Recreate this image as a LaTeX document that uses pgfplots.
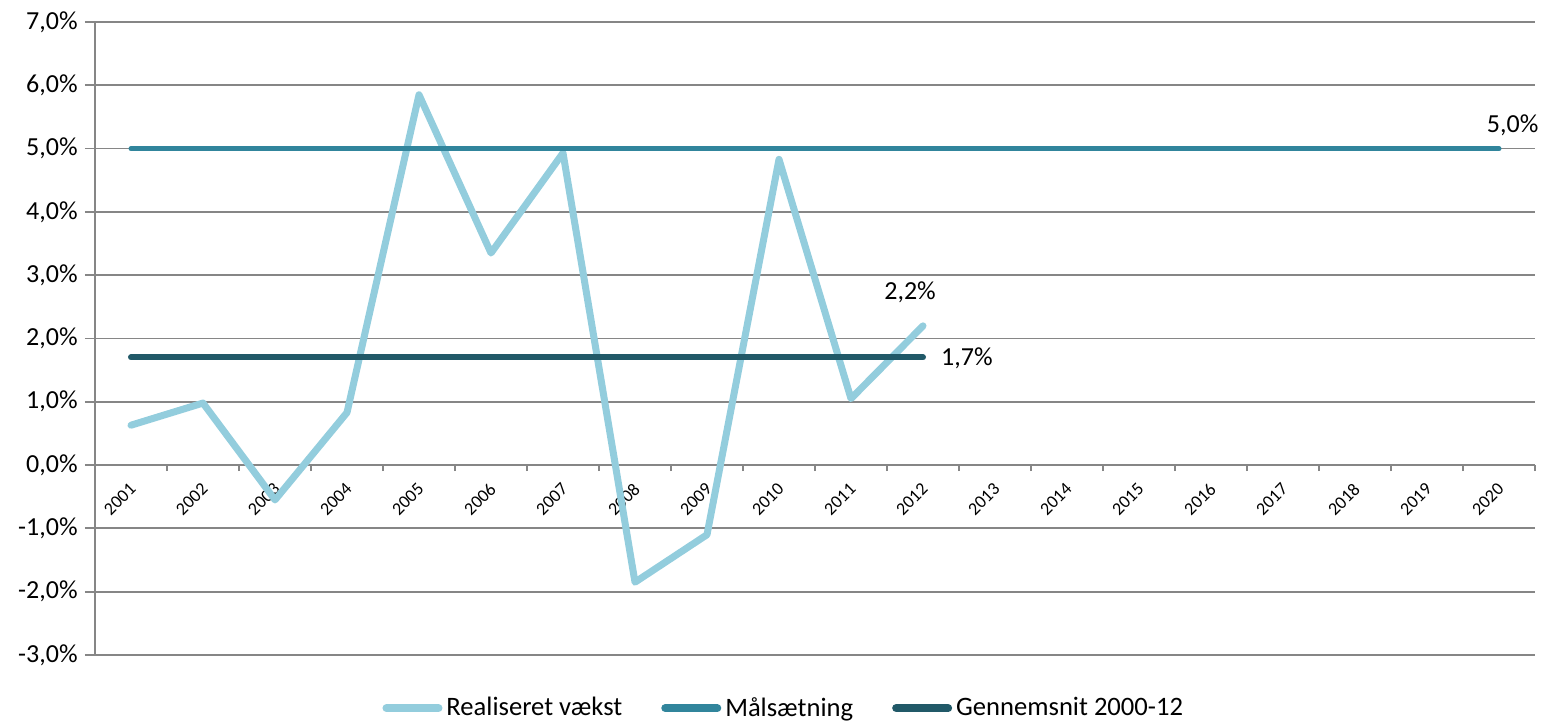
\documentclass[border=0pt]{standalone}
\usepackage{fontspec}
\setmainfont{Carlito}
\usepackage{pgfplots}
\pgfplotsset{compat=1.18}
\definecolor{real}{HTML}{93CDDD}
\definecolor{maal}{HTML}{31859C}
\definecolor{gns}{HTML}{215968}
\definecolor{gridc}{HTML}{868686}
\begin{document}
\begin{tikzpicture}
\path[use as bounding box] (0,0) rectangle (771pt,361pt);
\begin{axis}[
  at={(47.5pt,33.5pt)}, anchor=south west,
  scale only axis, width=720pt, height=316.5pt,
  xmin=0.5, xmax=20.5, ymin=-3, ymax=7,
  axis x line=middle, axis y line=left,
  axis line style={-, draw=gridc, line width=0.9pt},
  hide obscured x ticks=false, hide obscured y ticks=false,
  clip=false,
  xtick={1,...,20},
  xticklabels={2001,2002,2003,2004,2005,2006,2007,2008,2009,2010,2011,2012,2013,2014,2015,2016,2017,2018,2019,2020},
  minor xtick={0.5,1.5,...,20.5},
  major x tick style={draw=none},
  minor x tick style={draw=gridc, line width=0.9pt},
  y tick style={draw=gridc, line width=0.9pt},
  tick align=outside,
  major tick length=5pt, minor tick length=3pt,
  ytick={-3,-2,-1,0,1,2,3,4,5,6,7},
  yticklabels={{-3,0\%},{-2,0\%},{-1,0\%},{0,0\%},{1,0\%},{2,0\%},{3,0\%},{4,0\%},{5,0\%},{6,0\%},{7,0\%}},
  ymajorgrids, grid style={gridc, line width=0.9pt},
  yticklabel style={font=\fontsize{13}{15}\selectfont, inner sep=0pt, xshift=-3.5pt},
  xticklabel style={font=\fontsize{9}{10}\selectfont, inner sep=0pt, xshift=1pt, yshift=-5.5pt, rotate=45, anchor=east},
  legend style={at={(0.479,-0.084)}, anchor=center, draw=none, legend columns=3,
    font=\fontsize{13.3}{15}\selectfont, inner sep=0pt,
    /tikz/every even column/.append style={column sep=17.5pt}},
  legend image code/.code={\draw[#1, line width=4pt, line cap=round] (0pt,0pt) -- (26pt,0pt);},
]
\addplot[real, line width=3.5pt, line cap=round, line join=round] coordinates {(1,0.63)(2,0.98)(3,-0.55)(4,0.83)(5,5.85)(6,3.35)(7,4.93)(8,-1.85)(9,-1.1)(10,4.83)(11,1.05)(12,2.2)};
\addlegendentry{Realiseret vækst}
\addplot[maal, line width=2.5pt, line cap=round] coordinates {(1,5)(2,5)(3,5)(4,5)(5,5)(6,5)(7,5)(8,5)(9,5)(10,5)(11,5)(12,5)(13,5)(14,5)(15,5)(16,5)(17,5)(18,5)(19,5)(20,5)};
\addlegendentry{Målsætning}
\addplot[gns, line width=3pt, line cap=round] coordinates {(1,1.7)(2,1.7)(3,1.7)(4,1.7)(5,1.7)(6,1.7)(7,1.7)(8,1.7)(9,1.7)(10,1.7)(11,1.7)(12,1.7)};
\addlegendentry{Gennemsnit 2000-12}
\node[font=\fontsize{13}{15}\selectfont] at (axis cs:11.82,2.73) {2,2\%};
\node[font=\fontsize{13}{15}\selectfont] at (axis cs:12.61,1.69) {1,7\%};
\node[font=\fontsize{13}{15}\selectfont] at (axis cs:20.19,5.37) {5,0\%};
\end{axis}
\end{tikzpicture}
\end{document}
